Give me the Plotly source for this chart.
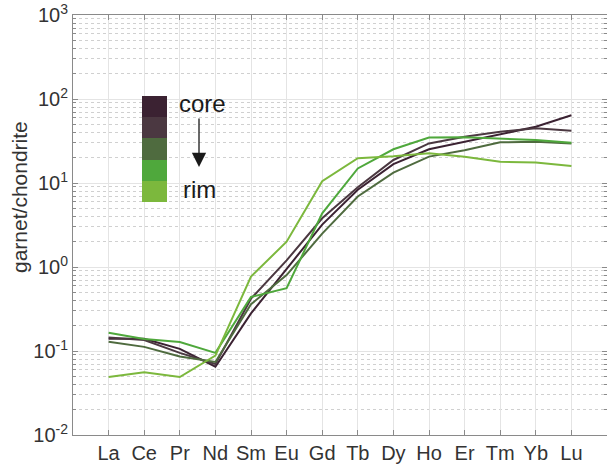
import plotly.graph_objects as go

elements = ["La", "Ce", "Pr", "Nd", "Sm", "Eu", "Gd", "Tb", "Dy", "Ho", "Er", "Tm", "Yb", "Lu"]

core_a = [0.140, 0.140, 0.106, 0.065, 0.28, 0.95, 3.2, 8.3, 16.8, 25.2, 31.0, 38.0, 46.7, 64.0]
core_b = [0.145, 0.135, 0.095, 0.070, 0.42, 1.20, 3.8, 8.9, 18.8, 29.6, 35.6, 40.8, 44.8, 41.8]
mid = [0.129, 0.112, 0.086, 0.074, 0.36, 0.80, 2.5, 6.9, 13.3, 20.6, 24.6, 30.5, 31.0, 29.6]
outer = [0.165, 0.139, 0.128, 0.095, 0.44, 0.56, 4.35, 14.9, 25.2, 34.7, 35.0, 34.0, 32.5, 30.1]
rim = [0.049, 0.056, 0.049, 0.088, 0.77, 2.0, 10.5, 19.7, 20.8, 22.6, 20.6, 17.9, 17.5, 15.9]

series = [core_a, core_b, mid, outer, rim]
colors = ["#3b2232", "#4b3841", "#4f6b3f", "#4fa83c", "#7cb83d"]

xpos = list(range(1, len(elements) + 1))

fig = go.Figure()
for vals, col in zip(series, colors):
    fig.add_trace(go.Scatter(x=xpos, y=vals, mode="lines",
                             line=dict(color=col, width=2), showlegend=False))

ytick_vals = [1e-2, 1e-1, 1, 10, 100, 1000]
ytick_text = ["10<sup>-2</sup>", "10<sup>-1</sup>", "10<sup>0</sup>",
              "10<sup>1</sup>", "10<sup>2</sup>", "10<sup>3</sup>"]

axis_col = "#8a8a8a"
font = "Liberation Sans, Arial, sans-serif"
txt_col = "#333333"

fig.update_layout(
    width=607, height=472,
    margin=dict(l=73, r=0, t=15, b=37),
    plot_bgcolor="white", paper_bgcolor="white",
    font=dict(family=font, color=txt_col),
    xaxis=dict(range=[0, 15], tickvals=xpos, ticktext=elements,
               showline=True, linecolor=axis_col, linewidth=1, mirror="allticks",
               ticks="inside", ticklen=5, tickcolor=axis_col,
               showgrid=True, gridcolor="#e4e4e4", gridwidth=1,
               zeroline=False, tickfont=dict(size=20, color=txt_col)),
    yaxis=dict(type="log", range=[-2, 3], tickvals=ytick_vals, ticktext=ytick_text,
               showline=True, linecolor=axis_col, linewidth=1, mirror="allticks",
               ticks="inside", ticklen=5, tickcolor=axis_col,
               showgrid=True, gridcolor="#e4e4e4", gridwidth=1,
               minor=dict(dtick="D1", ticks="inside", ticklen=3, tickcolor=axis_col,
                          showgrid=True, gridcolor="#d0d0d0", griddash="dot", gridwidth=1),
               zeroline=False, tickfont=dict(size=20, color=txt_col)),
)

def px_x(p):
    return (p - 73) / 534.0

def px_y(p):
    return (435 - p) / 420.0

# y-axis title (placed like the reference, slightly above axis centre)
fig.add_annotation(xref="paper", yref="paper", x=px_x(19), y=px_y(197),
                   text="garnet/chondrite", textangle=-90, showarrow=False,
                   xanchor="center", yanchor="middle",
                   font=dict(size=21, color=txt_col))

# colour legend (core -> rim)
edges = [96, 117, 138, 160, 181, 202]
for i, col in enumerate(colors):
    fig.add_shape(type="rect", xref="paper", yref="paper",
                  x0=px_x(142), x1=px_x(167), y0=px_y(edges[i + 1]), y1=px_y(edges[i]),
                  fillcolor=col, line=dict(width=0), layer="above")

fig.add_annotation(xref="paper", yref="paper", x=px_x(202), y=px_y(103), text="core",
                   xanchor="center", yanchor="middle",
                   showarrow=False, font=dict(size=24, color="#1a1a1a"))
fig.add_annotation(xref="paper", yref="paper", x=px_x(199), y=px_y(189), text="rim",
                   xanchor="center", yanchor="middle",
                   showarrow=False, font=dict(size=24, color="#1a1a1a"))
fig.add_annotation(xref="paper", yref="paper", x=px_x(199), y=px_y(167), text="",
                   showarrow=True, ax=0, ay=-50, arrowhead=2, arrowsize=2.2,
                   arrowwidth=1.3, arrowcolor="#1a1a1a")

fig.write_html("out.html")
